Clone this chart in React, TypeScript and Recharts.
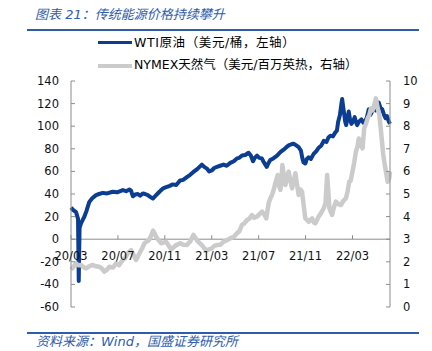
import { LineChart, Line, XAxis, YAxis, ReferenceLine } from 'recharts';

// months counted from 20/03
const MONTH_TICKS = [0, 4, 8, 12, 16, 20, 24];
const MONTH_LABELS = ['20/03', '20/07', '20/11', '21/03', '21/07', '21/11', '22/03'];
const LEFT_TICKS = [-60, -40, -20, 0, 20, 40, 60, 80, 100, 120, 140];
const RIGHT_TICKS = [0, 1, 2, 3, 4, 5, 6, 7, 8, 9, 10];

// WTI crude, USD/bbl (left axis)
const wtiMonths = [
  0, 0.17, 0.43, 0.6, 0.66, 0.73, 0.85, 1.14, 1.32, 1.56, 1.79, 2.13, 2.39, 2.71, 3.07, 3.56, 3.93,
  4.42, 4.7, 4.98, 5.12, 5.27, 5.47, 5.7, 5.89, 6.12, 6.32, 6.55, 6.75, 6.98, 7.26, 7.54, 7.86, 8.11,
  8.37, 8.68, 8.97, 9.31, 9.56, 9.88, 10.16, 10.44, 10.76, 11.16, 11.36, 11.59, 11.78, 12.02, 12.21,
  12.44, 12.72, 13.01, 13.28, 13.58, 13.88, 14.15, 14.35, 14.58, 14.86, 15.14, 15.33, 15.52, 15.67,
  15.86, 16.05, 16.27, 16.42, 16.57, 16.69, 16.82, 16.99, 17.25, 17.57, 17.85, 18.1, 18.32, 18.56,
  18.79, 18.98, 19.21, 19.41, 19.6, 19.72, 19.83, 19.98, 20.11, 20.27, 20.45, 20.69, 20.92, 21.12,
  21.35, 21.55, 21.78, 21.95, 22.12, 22.33, 22.54, 22.67, 22.78, 22.93, 23.06, 23.12, 23.21, 23.29,
  23.38, 23.46, 23.57, 23.68, 23.79, 23.91, 24.04, 24.19, 24.29, 24.4, 24.55, 24.76, 24.93, 25.11,
  25.23, 25.39, 25.53, 25.68, 25.81, 25.96, 26.09, 26.24, 26.39, 26.53, 26.69, 26.82, 26.94, 27.1, 27.2,
];
const wtiPrice = [
  28, 26, 24, 18, -37, 10, 14, 20, 25, 33, 36, 39, 40, 41, 40.5, 42, 41.5,
  43.5, 42.5, 44, 43, 38, 39.5, 40, 38.5, 40.5, 40, 39, 37.5, 36, 39, 42, 45, 46,
  47, 48.5, 48, 52, 52.5, 55, 57, 59.5, 62, 66, 64, 62.5, 60, 61, 63,
  64, 65, 66, 65, 67.5, 69, 71.5, 72, 74, 74.5, 76.5, 74, 69, 72,
  74, 72, 71.5, 68.5, 66, 64, 67, 70, 71.5, 74, 77, 79, 81, 83,
  84, 84.5, 83, 81.5, 78.5, 72, 68, 67, 71, 72.5, 71, 75.5, 78, 81,
  83, 87, 86, 90, 91.5, 91, 94.5, 96, 104, 110, 120, 124, 117, 111,
  104, 101, 107, 113, 106, 102, 104, 108, 104, 101, 104, 106, 103, 105,
  108, 115, 110, 113, 116, 114, 118, 121, 116, 115, 110, 107, 109, 104, 102,
];

// NYMEX natural gas, USD/MMBtu (right axis)
const gasMonths = [
  0, 0.17, 0.43, 0.6, 0.85, 1.11, 1.28, 1.54, 1.85, 2.13, 2.42, 2.65, 2.84, 3.07, 3.27, 3.59, 3.84,
  4.1, 4.41, 4.6, 4.84, 5.12, 5.34, 5.55, 5.84, 6.07, 6.26, 6.64, 6.83, 7.0, 7.26, 7.47, 7.69, 8.11,
  8.54, 8.97, 9.31, 9.56, 9.88, 10.16, 10.44, 10.73, 10.93, 11.16, 11.36, 11.59, 11.78, 12.02, 12.21,
  12.44, 12.72, 13.01, 13.28, 13.58, 13.88, 14.15, 14.35, 14.58, 14.78, 15.01, 15.2, 15.43, 15.62,
  15.86, 16.05, 16.29, 16.48, 16.65, 16.85, 16.99, 17.14, 17.29, 17.42, 17.62, 17.72, 17.85, 17.93,
  18.02, 18.15, 18.28, 18.41, 18.56, 18.7, 18.85, 19.0, 19.13, 19.28, 19.41, 19.55, 19.7, 19.84,
  19.98, 20.13, 20.27, 20.41, 20.56, 20.69, 20.84, 20.98, 21.12, 21.31, 21.55, 21.7, 21.84, 21.93,
  22.03, 22.16, 22.26, 22.41, 22.58, 22.8, 23.01, 23.23, 23.44, 23.58, 23.72, 23.86, 24.0, 24.15,
  24.29, 24.43, 24.54, 24.66, 24.86, 25.0, 25.15, 25.29, 25.43, 25.58, 25.72, 25.86, 26.0, 26.15,
  26.29, 26.41, 26.52, 26.61, 26.71, 26.85, 27.0, 27.13, 27.2,
];
const gasPrice = [
  1.65, 1.75, 1.93, 1.85, 1.86, 1.75, 1.71, 1.8, 1.86, 1.8, 1.78, 1.7, 1.56, 1.65, 1.78, 1.75, 1.93,
  1.85, 2.08, 2.15, 2.38, 2.52, 2.3, 2.08, 2.38, 2.6, 2.82, 2.96, 3.15, 3.38, 3.11, 2.95, 2.82, 2.89,
  2.55, 2.74, 2.82, 2.75, 2.74, 2.9, 3.19, 2.96, 2.85, 2.74, 2.6, 2.5, 2.55, 2.6, 2.7,
  2.74, 2.75, 2.89, 2.95, 3.04, 3.1, 3.26, 3.35, 3.63, 3.7, 3.85, 3.9, 4.07, 3.95,
  4.0, 4.1, 4.22, 4.1, 3.92, 4.59, 4.8, 4.96, 5.2, 5.47, 5.84, 5.4, 5.18, 5.5,
  6.28, 5.8, 5.4, 5.7, 5.99, 5.6, 5.25, 5.6, 5.92, 5.4, 4.96, 5.2, 5.1, 4.5,
  3.92, 3.85, 3.77, 3.85, 3.92, 3.75, 3.7, 3.85, 4.0, 4.15, 4.37, 4.6, 5.84, 5.2,
  4.37, 4.2, 4.07, 4.4, 4.66, 4.55, 4.51, 4.7, 4.81, 5.1, 5.54, 5.6, 5.99, 6.4,
  6.87, 7.1, 7.46, 7.2, 7.02, 7.91, 8.1, 8.35, 8.5, 8.79, 8.7, 8.94, 9.23, 8.79,
  8.5, 7.9, 7.31, 6.8, 6.43, 5.99, 5.54, 5.69, 6.0,
];

const wtiData = wtiMonths.map((t, i) => ({ t, wti: wtiPrice[i] }));
const gasData = gasMonths.map((t, i) => ({ t, gas: gasPrice[i] }));

const BLUE = '#0b3d92';
const GRAY = '#cbcbcb';
const AXIS = '#8c8c8c';
const ACCENT = '#2f5cab';
const FONT = '"DejaVu Sans", "Noto Sans CJK SC", sans-serif';

const PLOT_TOP = 81;
const PLOT_H = 226;
const ZERO_Y = PLOT_TOP + (140 / 200) * PLOT_H;

const MonthTick = ({ x, payload, index }: any) => (
  <g>
    <line x1={x} x2={x} y1={ZERO_Y} y2={ZERO_Y - 4} stroke={AXIS} />
    <text x={x} y={ZERO_Y + 21} textAnchor="middle" fontSize={11.5} fontFamily={FONT} fill="#111">
      {MONTH_LABELS[index] ?? payload.value}
    </text>
  </g>
);

export default function App() {
  return (
    <div style={{ position: 'absolute', left: 0, top: 0, width: 432, height: 351, background: '#fff' }}>
      <div style={{
        position: 'absolute', left: 35, top: 6, fontSize: 13, lineHeight: '18px', fontStyle: 'italic',
        color: ACCENT, fontFamily: FONT, whiteSpace: 'nowrap',
      }}>
        图表 21：传统能源价格持续攀升
      </div>
      <div style={{ position: 'absolute', left: 27, top: 29, width: 392, height: 2, background: ACCENT }} />

      <div style={{ position: 'absolute', left: 98, top: 40.5, width: 34, height: 3.5, background: BLUE }} />
      <div style={{
        position: 'absolute', left: 134, top: 33.5, fontSize: 12.5, lineHeight: '18px', color: '#000',
        fontFamily: FONT, whiteSpace: 'nowrap', letterSpacing: 0.6,
      }}>
        WTI原油（美元/桶，左轴）
      </div>
      <div style={{ position: 'absolute', left: 98, top: 64, width: 34, height: 4, background: GRAY }} />
      <div style={{
        position: 'absolute', left: 134, top: 56, fontSize: 12.5, lineHeight: '18px', color: '#000',
        fontFamily: FONT, whiteSpace: 'nowrap',
      }}>
        NYMEX天然气（美元/百万英热，右轴）
      </div>

      <div style={{ position: 'absolute', left: 0, top: 0 }}>
        <LineChart width={432} height={351} margin={{ top: PLOT_TOP, right: 0, bottom: 351 - PLOT_TOP - PLOT_H - 1, left: 0 }}>
          <XAxis
            type="number"
            dataKey="t"
            domain={[0, 27.2]}
            ticks={MONTH_TICKS}
            interval={0}
            height={1}
            axisLine={false}
            tickLine={false}
            tick={<MonthTick />}
          />
          <YAxis
            yAxisId="left"
            domain={[-60, 140]}
            ticks={LEFT_TICKS}
            interval={0}
            width={71}
            tickSize={-4}
            tickMargin={16}
            stroke={AXIS}
            tick={{ fontSize: 11.5, fontFamily: FONT, fill: '#111' }}
          />
          <YAxis
            yAxisId="right"
            orientation="right"
            domain={[0, 10]}
            ticks={RIGHT_TICKS}
            interval={0}
            width={42}
            tickSize={-4}
            tickMargin={17}
            stroke={AXIS}
            tick={{ fontSize: 11.5, fontFamily: FONT, fill: '#111' }}
          />
          <ReferenceLine yAxisId="left" y={0} stroke={AXIS} />
          <Line
            data={wtiData}
            yAxisId="left"
            dataKey="wti"
            type="linear"
            stroke={BLUE}
            strokeWidth={4}
            strokeLinejoin="round"
            dot={false}
            isAnimationActive={false}
          />
          <Line
            data={gasData}
            yAxisId="right"
            dataKey="gas"
            type="linear"
            stroke={GRAY}
            strokeWidth={4.5}
            strokeLinejoin="round"
            dot={false}
            isAnimationActive={false}
          />
        </LineChart>
      </div>

      <div style={{ position: 'absolute', left: 27, top: 332, width: 392, height: 2, background: ACCENT }} />
      <div style={{
        position: 'absolute', left: 36, top: 333, fontSize: 13, lineHeight: '18px', fontStyle: 'italic',
        color: ACCENT, fontFamily: FONT, whiteSpace: 'nowrap',
      }}>
        资料来源：Wind，国盛证券研究所
      </div>
    </div>
  );
}
